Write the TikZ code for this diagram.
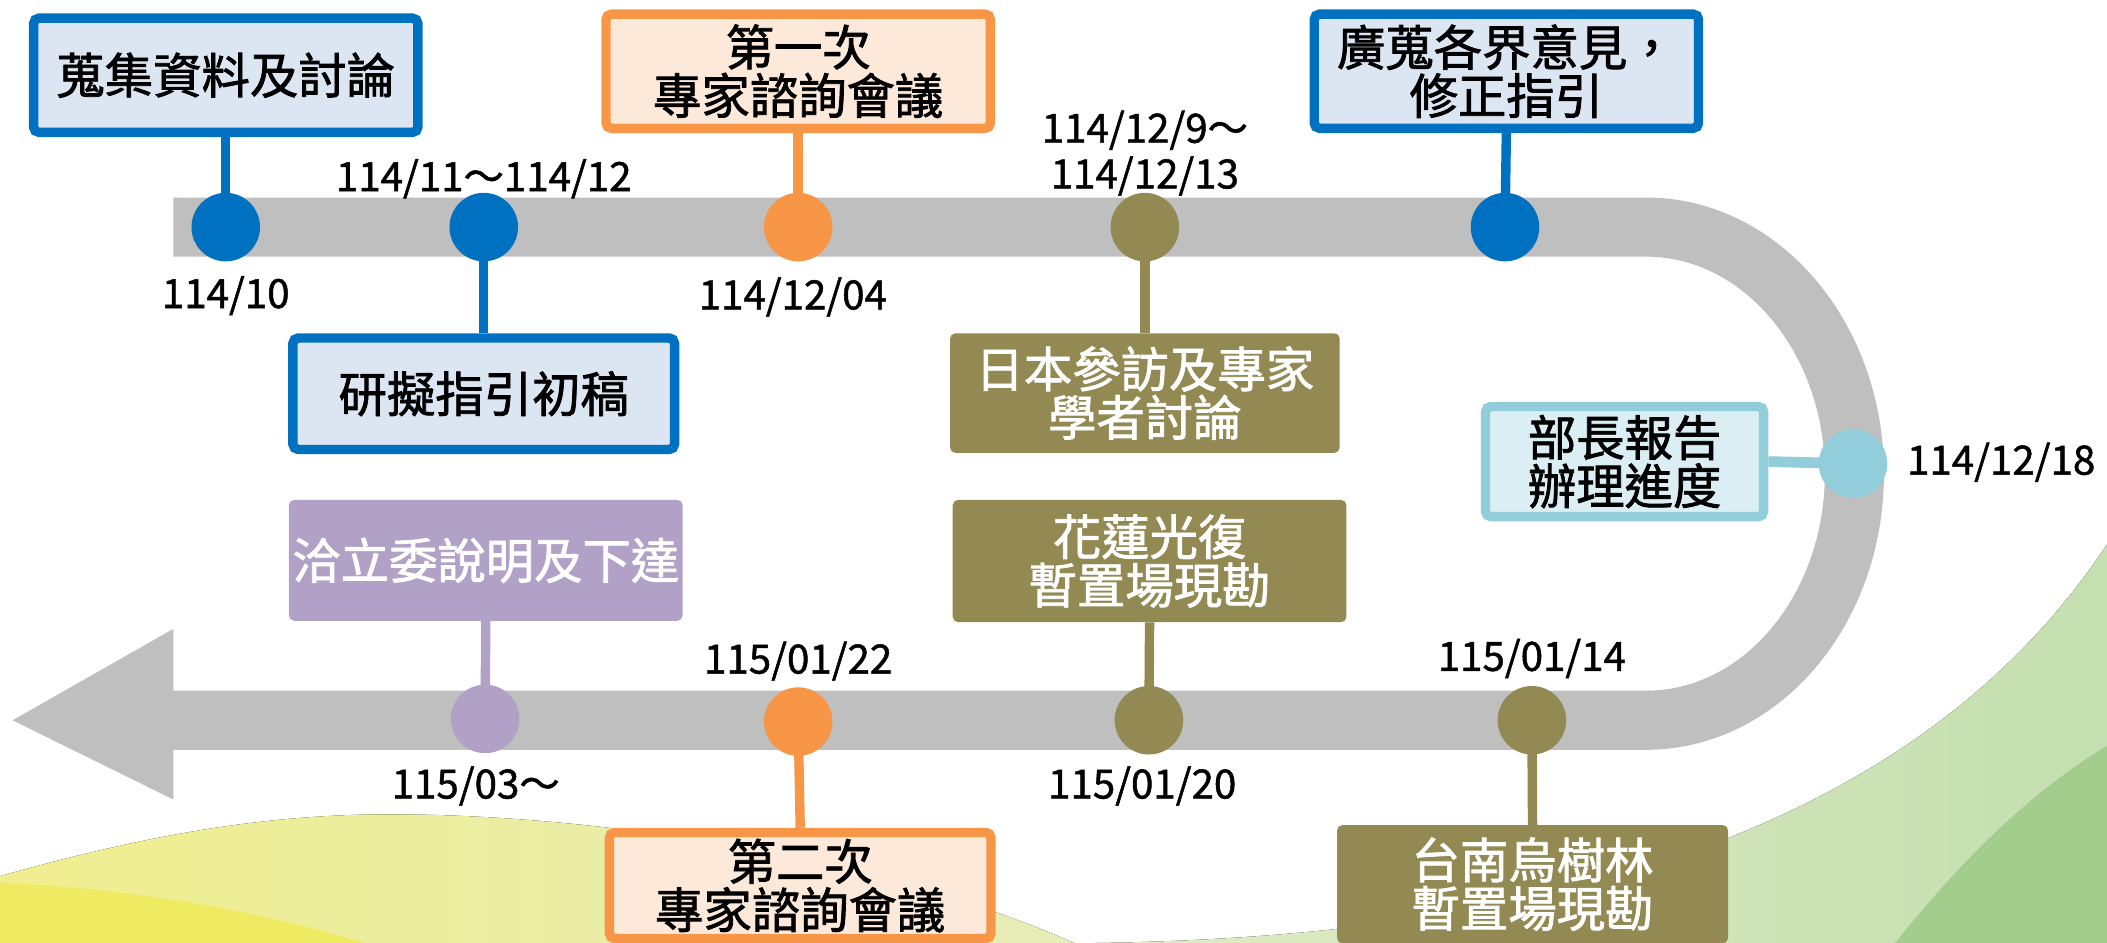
\documentclass[tikz,border=0pt]{standalone}
\usepackage{fontspec}
\setmainfont{Noto Sans CJK TC}
\newfontfamily\heavycjk[FakeBold=1.6]{Noto Sans CJK TC}
\newfontfamily\heavydate[FakeBold=1.2]{Noto Sans CJK TC}
\definecolor{cgray}{HTML}{BFBFBF}
\definecolor{cblue}{HTML}{0070C0}
\definecolor{cbluefill}{HTML}{DCE6F2}
\definecolor{corange}{HTML}{F79646}
\definecolor{corangefill}{HTML}{FDE9D9}
\definecolor{colive}{HTML}{938953}
\definecolor{clblue}{HTML}{92CDDC}
\definecolor{clbluefill}{HTML}{DBEEF3}
\definecolor{cpurple}{HTML}{B2A1C7}
\definecolor{ylA}{HTML}{F0EE8E}
\definecolor{ylB}{HTML}{E6EDB8}
\definecolor{ylbright}{HTML}{EEEA62}
\definecolor{grA}{HTML}{E2ECC4}
\definecolor{grB}{HTML}{C4DFB0}
\definecolor{grdark}{HTML}{A3CD8D}
\newcommand{\boxfont}{\heavycjk\fontsize{36}{36}\selectfont}
\newcommand{\datefont}{\heavydate\fontsize{30}{34}\selectfont}
\pgfdeclarelayer{back}
\pgfsetlayers{back,main}
\begin{document}
\begin{tikzpicture}[x=1pt,y=-1pt,
  tbox/.style={rectangle, rounded corners=4pt, align=center, inner sep=0pt, font=\boxfont},
  bluebox/.style={tbox, draw=cblue, fill=cbluefill, line width=7pt, minimum width=286pt, minimum height=85pt},
  orangebox/.style={tbox, draw=corange, fill=corangefill, line width=7pt, minimum width=286pt, minimum height=85pt},
  lbluebox/.style={tbox, draw=clblue, fill=clbluefill, line width=7pt, minimum width=207pt, minimum height=82pt},
  olivebox/.style={tbox, fill=colive, text=white, minimum width=291pt, minimum height=90pt},
  purplebox/.style={tbox, fill=cpurple, text=white, minimum width=293pt, minimum height=90pt},
  dot/.style={circle, minimum size=51pt, inner sep=0pt},
  datelabel/.style={font=\datefont, inner sep=0pt, align=center},
  conn/.style={line width=7pt}
]
\useasboundingbox (0,0) rectangle (1568,701.7);

% boxes
\node[bluebox] (b1) at (168,56) {蒐集資料及討論};
\node[bluebox, minimum width=284pt, minimum height=83pt] (b2) at (360,293) {研擬指引初稿};
\node[orangebox] (b3) at (594,53) {第一次\\專家諮詢會議};
\node[bluebox] (b4) at (1121,53) {廣蒐各界意見，\\修正指引};
\node[olivebox, minimum width=290pt, minimum height=89pt] (b5) at (852,292.5) {日本參訪及專家\\學者討論};
\node[lbluebox] (b6) at (1209,343.5) {部長報告\\辦理進度};
\node[purplebox] (b7) at (361.5,417) {洽立委說明及下達};
\node[olivebox, minimum width=293pt, minimum height=91pt] (b8) at (855.5,417.5) {花蓮光復\\暫置場現勘};
\node[orangebox, minimum width=284pt, minimum height=79pt] (b9) at (595.5,659) {第二次\\專家諮詢會議};
\node[olivebox, minimum height=88pt] (b10) at (1140.5,658) {台南烏樹林\\暫置場現勘};

% circles
\node[dot, fill=cblue] (c1) at (168,169) {};
\node[dot, fill=cblue] (c2) at (360,169) {};
\node[dot, fill=corange] (c3) at (594,169) {};
\node[dot, fill=colive] (c4) at (852,169) {};
\node[dot, fill=cblue] (c5) at (1120,169) {};
\node[dot, fill=clblue] (c6) at (1379,345) {};
\node[dot, fill=colive] (c7) at (1140,536) {};
\node[dot, fill=colive] (c8) at (855,536) {};
\node[dot, fill=corange] (c9) at (594,537) {};
\node[dot, fill=cpurple] (c10) at (361,535) {};

% dates
\node[datelabel] (d1) at (168,220) {114/10};
\node[datelabel] (d2) at (360,133) {114/11～114/12};
\node[datelabel] (d3) at (590,221) {114/12/04};
\node[datelabel] (d4) at (852,114) {114/12/9～\\114/12/13};
\node[datelabel, anchor=west] (d6) at (1419,344) {114/12/18};
\node[datelabel] (d7) at (1140,490) {115/01/14};
\node[datelabel] (d8) at (850,585) {115/01/20};
\node[datelabel] (d9) at (594,492) {115/01/22};
\node[datelabel] (d10) at (354,585) {115/03～};

\begin{pgfonlayer}{back}
  % background
  \fill[left color=ylA, right color=ylB] (0,702) -- (0,652) .. controls (100,624) and (190,606) .. (290,606) .. controls (450,606) and (660,640) .. (800,702) -- cycle;
  \fill[ylbright] (0,702) -- (0,657) .. controls (110,662) and (200,680) .. (272,702) -- cycle;
  \fill[left color=grA, right color=grB] (780,702) .. controls (1050,702) and (1400,660) .. (1568,405) -- (1568,702) -- cycle;
  \fill[grdark] (1410,702) .. controls (1460,640) and (1510,590) .. (1568,555) -- (1568,702) -- cycle;
  % timeline band
  \draw[cgray, line width=44pt] (129,169) -- (1225,169) arc[start angle=-90, end angle=90, x radius=155, y radius=183.5] -- (125,536);
  \fill[cgray] (9.4,536) -- (129,468) -- (129,595) -- cycle;
  % connectors
  \draw[conn, cblue] (b1.south) -- (c1.center);
  \draw[conn, cblue] (b2.north) -- (c2.center);
  \draw[conn, corange] (b3.south) -- (c3.center);
  \draw[conn, colive] (b5.north) -- (c4.center);
  \draw[conn, cblue] (b4.south) -- (c5.center);
  \draw[line width=8pt, clblue] (b6.east) -- (c6.center);
  \draw[conn, colive] (b10.north) -- (c7.center);
  \draw[conn, colive] (b8.south) -- (c8.center);
  \draw[conn, corange] (b9.north) -- (c9.center);
  \draw[conn, cpurple] (b7.south) -- (c10.center);
\end{pgfonlayer}
\end{tikzpicture}
\end{document}
